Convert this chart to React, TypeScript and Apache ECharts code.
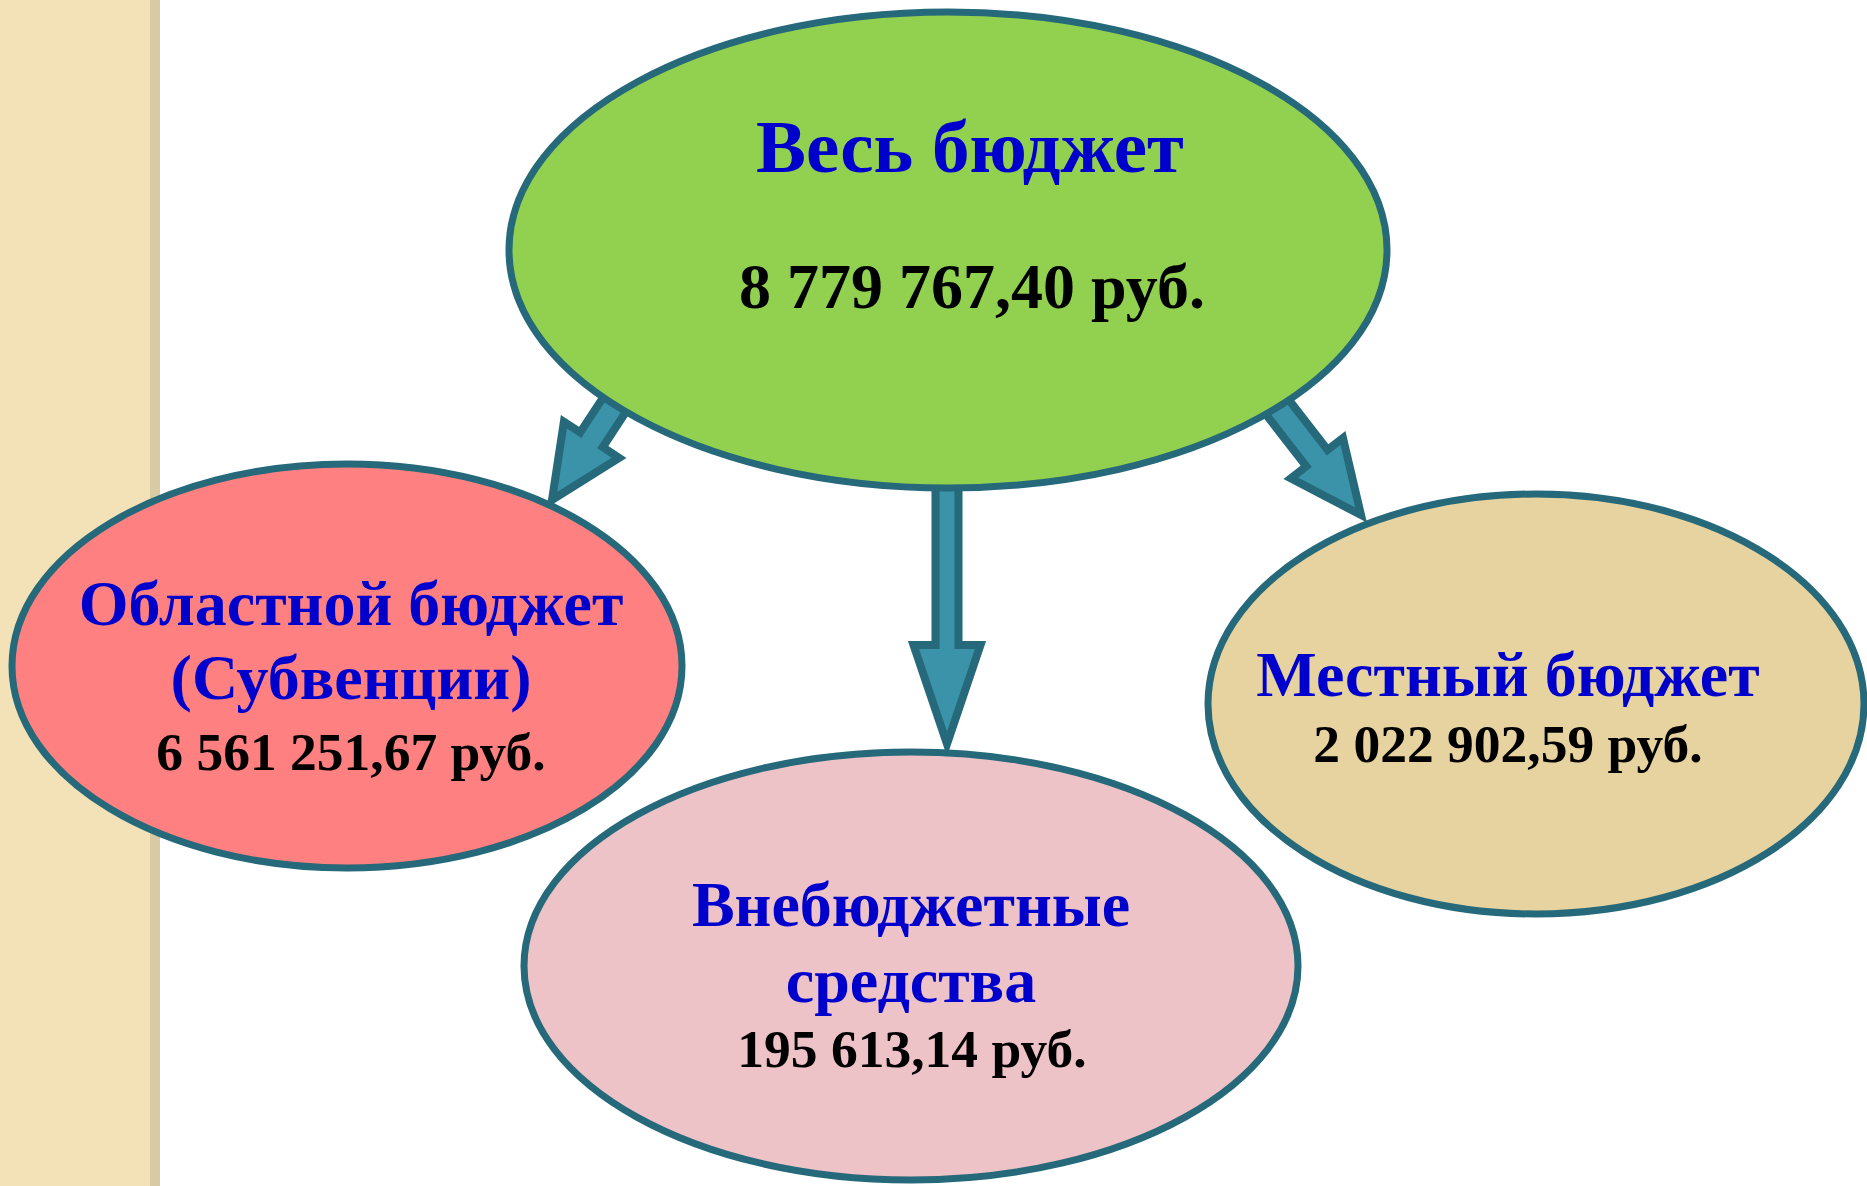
import React, { useEffect, useRef } from "react";
import * as echarts from "echarts";

// ---- data ----
const titles = ["Весь бюджет", "Областной бюджет\n(Субвенции)", "Внебюджетные\nсредства", "Местный бюджет"];
const amounts = ["8 779 767,40 руб.", "6 561 251,67 руб.", "195 613,14 руб.", "2 022 902,59 руб."];

const W = 1867;
const H = 1186;
const STROKE = "#25697A";
const ARROW_FILL = "#3A93A8";
const BLUE = "#0000CC";
const FONT = '"Liberation Serif", "Times New Roman", serif';

type Pt = [number, number];

function arrowPoints(start: Pt, end: Pt, sh: number, hh: number, hl: number): Pt[] {
  const dx = end[0] - start[0];
  const dy = end[1] - start[1];
  const len = Math.hypot(dx, dy);
  const ux = dx / len, uy = dy / len;
  const nx = -uy, ny = ux;
  const bx = end[0] - ux * hl, by = end[1] - uy * hl;
  return [
    [start[0] + nx * sh, start[1] + ny * sh],
    [bx + nx * sh, by + ny * sh],
    [bx + nx * hh, by + ny * hh],
    [end[0], end[1]],
    [bx - nx * hh, by - ny * hh],
    [bx - nx * sh, by - ny * sh],
    [start[0] - nx * sh, start[1] - ny * sh],
  ];
}

function txt(text: string, x: number, y: number, size: number, color: string) {
  return {
    type: "text",
    style: {
      text,
      x,
      y,
      fill: color,
      font: `bold ${size}px ${FONT}`,
      align: "center",
      verticalAlign: "middle",
      textAlign: "center",
      textVerticalAlign: "middle",
    },
  };
}

function ell(cx: number, cy: number, rx: number, ry: number, fill: string) {
  return {
    type: "ellipse",
    shape: { cx, cy, rx, ry },
    style: { fill, stroke: STROKE, lineWidth: 7 },
  };
}

function arrow(start: Pt, end: Pt, sh: number, hh: number, hl: number) {
  return {
    type: "polygon",
    shape: { points: arrowPoints(start, end, sh, hh, hl) },
    style: { fill: ARROW_FILL, stroke: STROKE, lineWidth: 8, lineJoin: "miter", miterLimit: 10 },
  };
}

export default function App() {
  const ref = useRef<HTMLDivElement>(null);
  useEffect(() => {
    if (!ref.current) return;
    const chart = echarts.init(ref.current, undefined, { renderer: "svg" });
    const [t0, t1, t2, t3] = titles;
    const t1l = t1.split("\n");
    const t2l = t2.split("\n");
    const elements: any[] = [
      // left decorative strip
      { type: "rect", shape: { x: 0, y: 0, width: 151, height: H }, style: { fill: "#F3E2B8" } },
      { type: "rect", shape: { x: 150, y: 0, width: 10, height: H }, style: { fill: "#D9CAA3" } },
      // lower ellipses
      ell(347, 666, 335, 202, "#FF8080"),
      ell(911, 966, 387, 214, "#EDC3C7"),
      ell(1536, 704, 328, 210, "#E7D3A0"),
      // arrows
      arrow([947, 470], [947, 744], 11.5, 33.5, 99),
      arrow([632, 378], [552, 500], 13.5, 33, 72),
      arrow([1261, 386], [1361, 515], 13.5, 33, 72),
      // top ellipse
      ell(948, 250, 439, 238, "#92D050"),
      // texts
      txt(t0, 970, 146, 75, BLUE),
      txt(amounts[0], 972, 286, 64, "#000"),
      txt(t1l[0], 351, 603, 64, BLUE),
      txt(t1l[1], 351, 677, 64, BLUE),
      txt(amounts[1], 351, 752, 53.5, "#000"),
      txt(t2l[0], 911, 904, 64, BLUE),
      txt(t2l[1], 911, 980, 64, BLUE),
      txt(amounts[2], 912, 1049, 53.5, "#000"),
      txt(t3, 1508, 674, 64, BLUE),
      txt(amounts[3], 1508, 744, 53.5, "#000"),
    ];
    chart.setOption({
      animation: false,
      backgroundColor: "#ffffff",
      graphic: { elements },
    });
    return () => chart.dispose();
  }, []);
  return (
    <div
      ref={ref}
      style={{ position: "fixed", left: 0, top: 0, width: W, height: H }}
    />
  );
}
